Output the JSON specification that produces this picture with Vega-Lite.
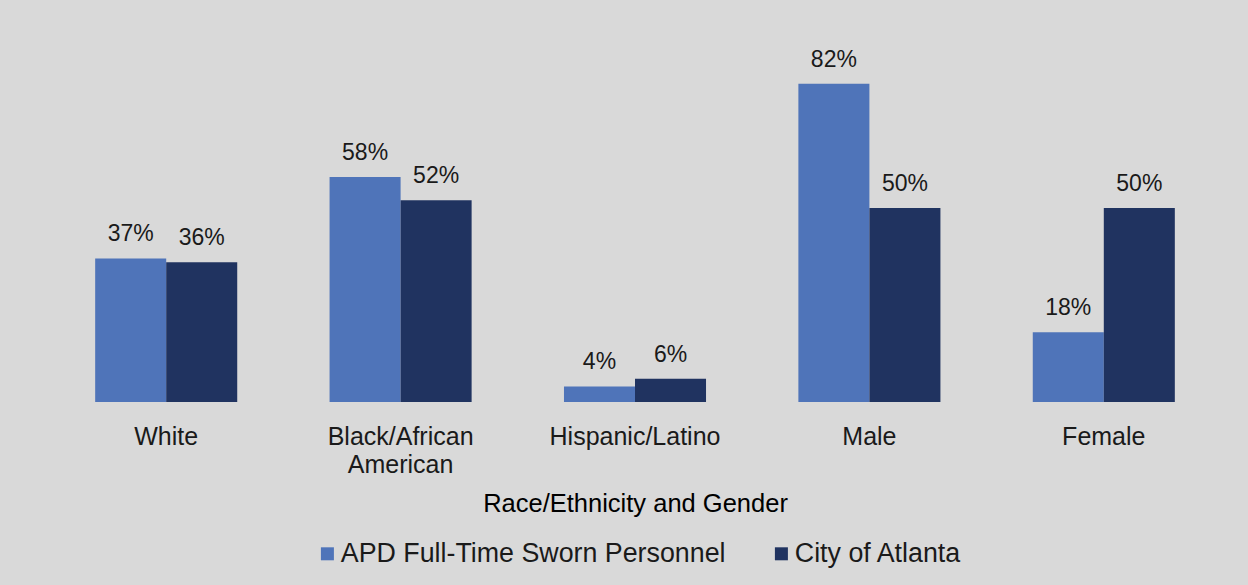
{
  "$schema": "https://vega.github.io/schema/vega-lite/v6.json",
  "autosize": {"type": "none"},
  "width": 1172,
  "height": 388,
  "padding": {"left": 49, "top": 14, "right": 27, "bottom": 183},
  "background": "#d9d9d9",
  "config": {"view": {"stroke": null}, "font": "Liberation Sans"},
  "data": {
    "values": [
      {"category": "White", "series": "APD Full-Time Sworn Personnel", "value": 0.37},
      {"category": "White", "series": "City of Atlanta", "value": 0.36},
      {"category": "Black/African American", "series": "APD Full-Time Sworn Personnel", "value": 0.58},
      {"category": "Black/African American", "series": "City of Atlanta", "value": 0.52},
      {"category": "Hispanic/Latino", "series": "APD Full-Time Sworn Personnel", "value": 0.04},
      {"category": "Hispanic/Latino", "series": "City of Atlanta", "value": 0.06},
      {"category": "Male", "series": "APD Full-Time Sworn Personnel", "value": 0.82},
      {"category": "Male", "series": "City of Atlanta", "value": 0.50},
      {"category": "Female", "series": "APD Full-Time Sworn Personnel", "value": 0.18},
      {"category": "Female", "series": "City of Atlanta", "value": 0.50}
    ]
  },
  "encoding": {
    "x": {
      "field": "category",
      "type": "nominal",
      "sort": null,
      "title": "Race/Ethnicity and Gender",
      "scale": {"paddingInner": 0.394, "paddingOuter": 0.197},
      "axis": {
        "labelAngle": 0,
        "labelFontSize": 25,
        "labelColor": "#1a1a1a",
        "ticks": false,
        "domain": false,
        "labelPadding": 22,
        "labelLineHeight": 28,
        "labelExpr": "datum.value == 'Black/African American' ? ['Black/African', 'American'] : datum.value",
        "titleFontSize": 25.5,
        "titleFontWeight": "normal",
        "titleColor": "#000000",
        "titlePadding": 14
      }
    },
    "xOffset": {"field": "series", "type": "nominal", "sort": ["APD Full-Time Sworn Personnel", "City of Atlanta"]},
    "y": {"field": "value", "type": "quantitative", "scale": {"domain": [0, 1]}, "axis": null}
  },
  "layer": [
    {
      "mark": {"type": "bar"},
      "encoding": {
        "color": {
          "field": "series",
          "type": "nominal",
          "sort": ["APD Full-Time Sworn Personnel", "City of Atlanta"],
          "scale": {"range": ["#4f74b9", "#203360"]},
          "legend": {
            "orient": "none",
            "legendX": 265,
            "legendY": 526,
            "direction": "horizontal",
            "title": null,
            "symbolType": "square",
            "symbolSize": 169,
            "symbolStrokeWidth": 0,
            "labelFontSize": 26.8,
            "labelLimit": 0,
            "labelColor": "#1a1a1a",
            "labelOffset": 0,
            "columnPadding": 42
          }
        }
      }
    },
    {
      "mark": {"type": "text", "baseline": "alphabetic", "dy": -17, "fontSize": 23, "color": "#1a1a1a"},
      "encoding": {"text": {"field": "value", "type": "quantitative", "format": ".0%"}}
    }
  ]
}
